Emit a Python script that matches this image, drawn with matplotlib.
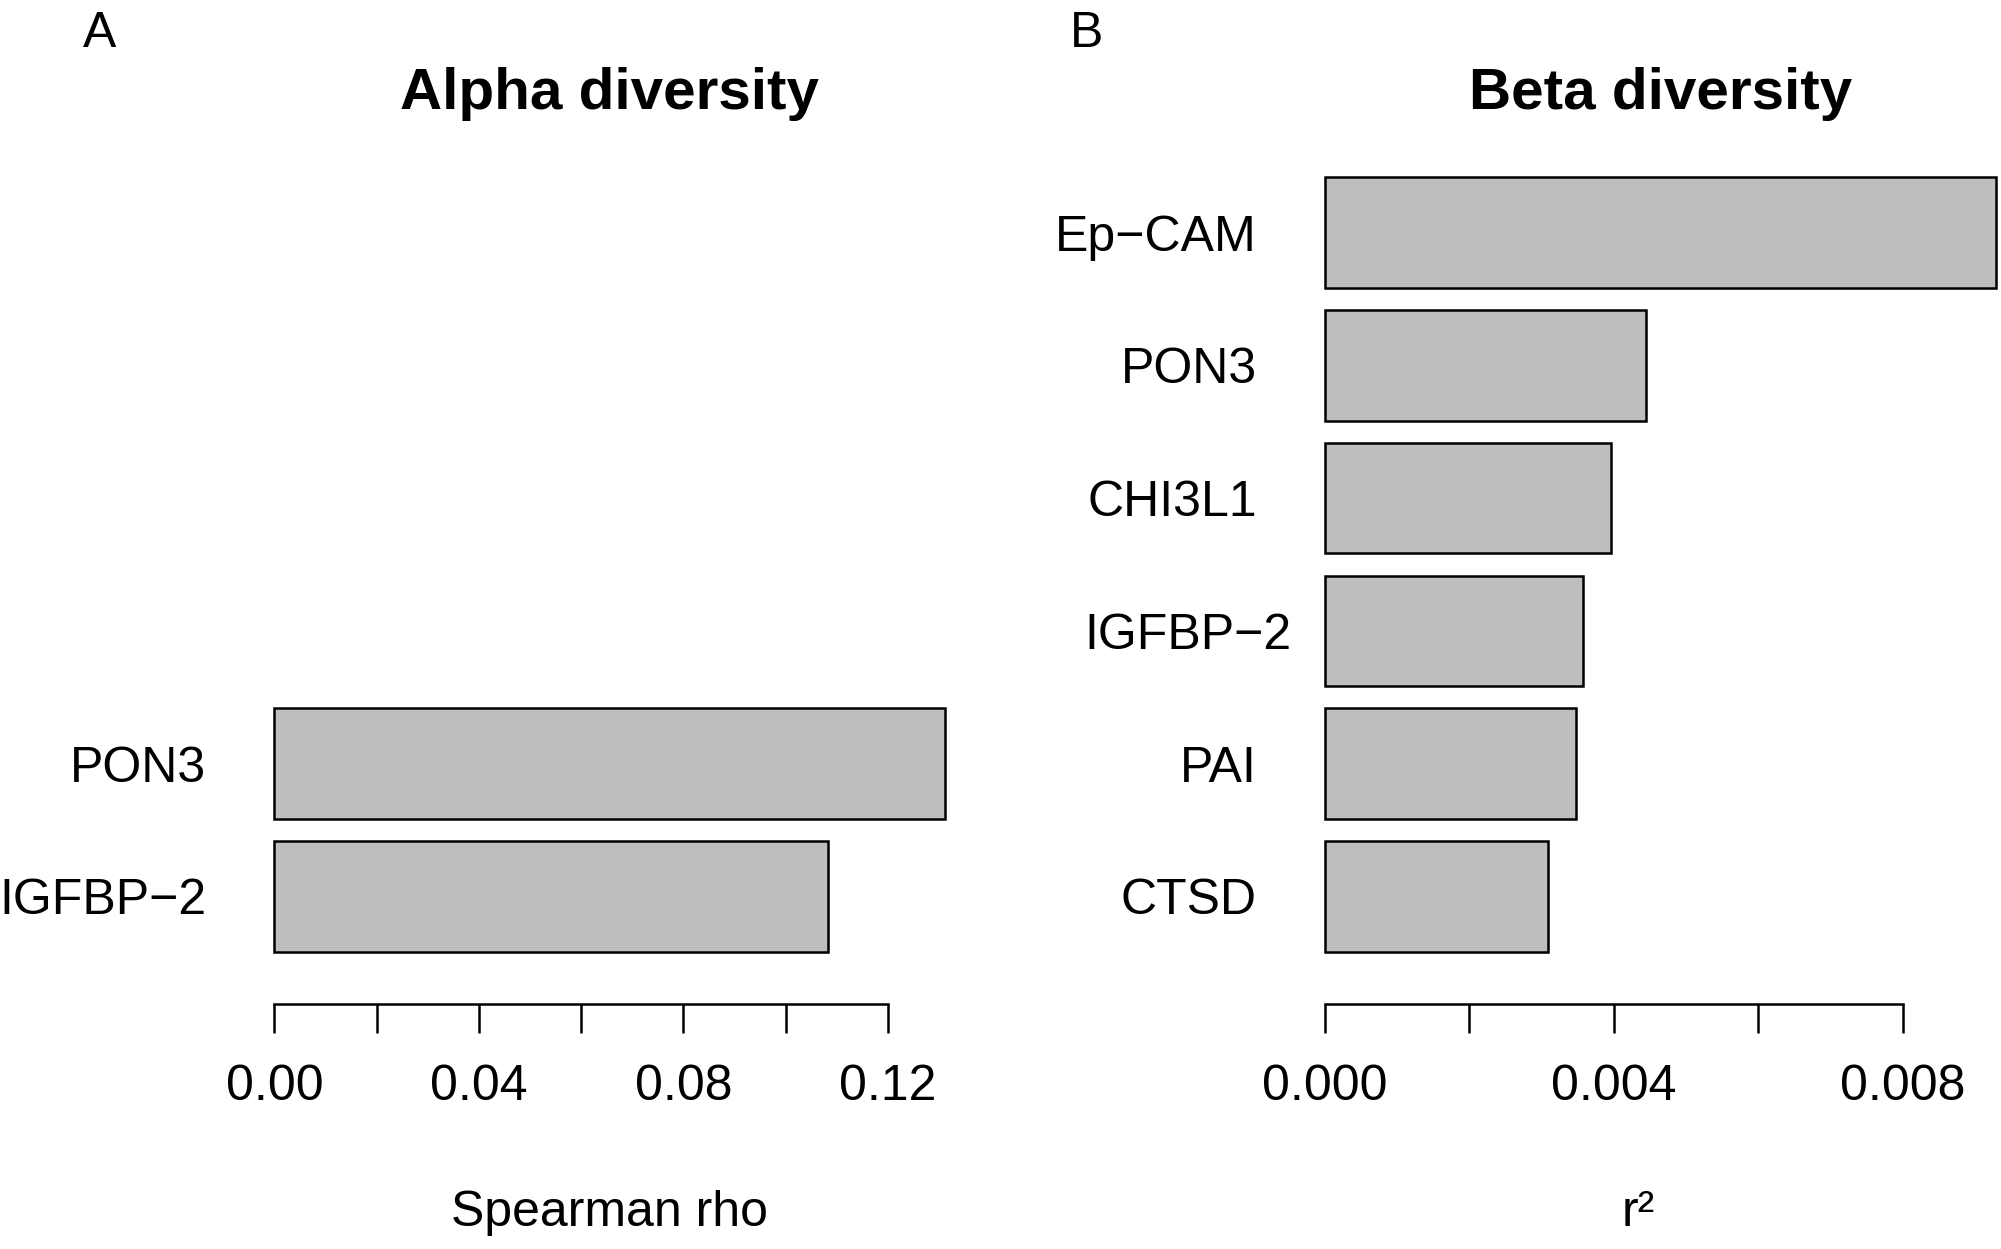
import matplotlib
matplotlib.use("Agg")
import matplotlib.pyplot as plt

plt.rcParams['font.family'] = ['Liberation Sans', 'DejaVu Sans']

# panel A: Spearman rho
alpha_labels = ['IGFBP\u22122', 'PON3']
alpha_values = [0.1083, 0.1312]
alpha_ticks = [0.00, 0.02, 0.04, 0.06, 0.08, 0.10, 0.12]
alpha_ticklabels = ['0.00', '', '0.04', '', '0.08', '', '0.12']

# panel B: r^2
beta_labels = ['CTSD', 'PAI', 'IGFBP\u22122', 'CHI3L1', 'PON3', 'Ep\u2212CAM']
beta_values = [0.00309, 0.00348, 0.00357, 0.00396, 0.00445, 0.00929]
beta_ticks = [0.000, 0.002, 0.004, 0.006, 0.008]
beta_ticklabels = ['0.000', '', '0.004', '', '0.008']

GREY = '#bebebe'
FS = 36


def panel(ax, labels, values, ticks, ticklabels, xlim, title, xlabel, label_offsets):
    ypos = [0.7 + 1.2 * i for i in range(len(values))]
    ax.barh(ypos, values, height=1.0, color=GREY, edgecolor='black', linewidth=1.8)
    for lab, y, off in zip(labels, ypos, label_offsets):
        ax.annotate(lab, xy=(0, y), xycoords='data', xytext=(off, 0),
                    textcoords='offset points', ha='right', va='center_baseline',
                    fontsize=FS, annotation_clip=False)
    ax.set_xlim(*xlim)
    ax.set_ylim(-0.274, 7.3)
    for s in ['top', 'right', 'left']:
        ax.spines[s].set_visible(False)
    ax.spines['bottom'].set_bounds(ticks[0], ticks[-1])
    ax.spines['bottom'].set_linewidth(1.8)
    ax.set_yticks([])
    ax.set_xticks(ticks)
    ax.set_xticklabels(ticklabels, fontsize=FS)
    ax.tick_params(axis='x', direction='out', length=21, width=1.8, pad=22)
    ax.set_title(title, fontsize=42, fontweight='bold', y=1.068, pad=0)
    ax.set_xlabel(xlabel, fontsize=FS)
    ax.patch.set_visible(False)


fig = plt.figure(figsize=(20.01, 12.49), dpi=100)
ax1 = fig.add_axes([0.1237, 0.196, 0.3622, 0.671])
ax2 = fig.add_axes([0.6486, 0.196, 0.3622, 0.671])

panel(ax1, alpha_labels, alpha_values, alpha_ticks, alpha_ticklabels,
      (-0.00525, 0.1365), 'Alpha diversity', 'Spearman rho', [-49, -49])
panel(ax2, beta_labels, beta_values, beta_ticks, beta_ticklabels,
      (-0.000372, 0.00966), 'Beta diversity', 'r\u00b2', [-49, -49, -24, -49, -49, -49])

ax1.xaxis.set_label_coords(0.5, -0.222)
ax2.xaxis.set_label_coords(0.47, -0.222)

fig.text(0.0497, 0.962, 'A', fontsize=36, family=['Liberation Sans Narrow', 'Liberation Sans'],
         ha='center', va='baseline')
fig.text(0.543, 0.962, 'B', fontsize=36, family=['Liberation Sans Narrow', 'Liberation Sans'],
         ha='center', va='baseline')

fig.savefig('out.png', dpi=100)
